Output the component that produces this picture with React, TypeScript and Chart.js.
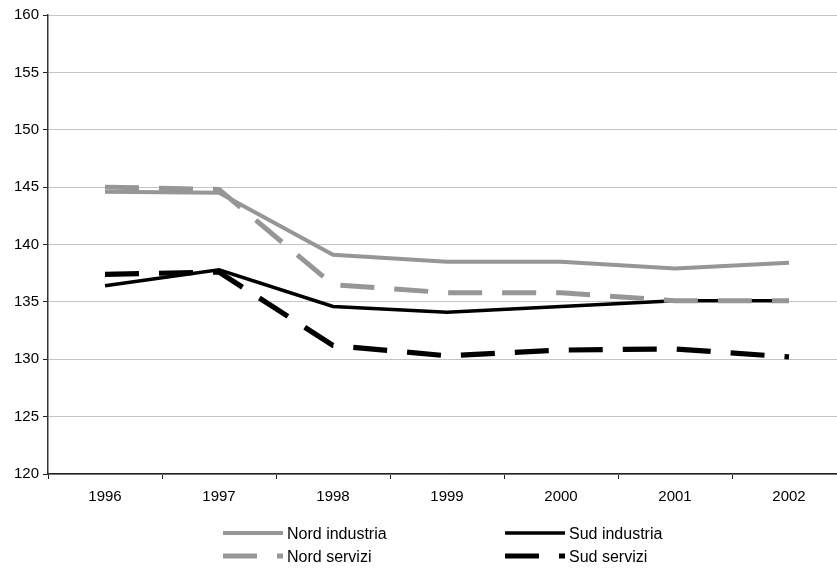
import React, { useEffect, useRef } from "react";
import { Chart, registerables } from "chart.js";

Chart.register(...registerables);

const years = ["1996", "1997", "1998", "1999", "2000", "2001", "2002"];
const nordIndustria = [144.6, 144.5, 139.1, 138.5, 138.5, 137.9, 138.4];
const sudIndustria = [136.4, 137.8, 134.6, 134.1, 134.6, 135.1, 135.1];
const nordServizi = [145.0, 144.8, 136.5, 135.8, 135.8, 135.1, 135.1];
const sudServizi = [137.4, 137.6, 131.2, 130.3, 130.8, 130.9, 130.2];

const FONT = "'Liberation Sans', Arial, sans-serif";
const GREY = "#969696";
const BLACK = "#000000";
const DASH = [34, 20];

// Two-column legend under the plot, drawn with each dataset's own stroke style
const legendGrid = {
  id: "legendGrid",
  afterDraw(chart: any) {
    const ctx = chart.ctx;
    const cols = [223, 505];
    const rows = [533, 556];
    const items = [
      { label: "Nord industria", ds: 0, col: 0, row: 0 },
      { label: "Sud industria", ds: 1, col: 1, row: 0 },
      { label: "Nord servizi", ds: 2, col: 0, row: 1 },
      { label: "Sud servizi", ds: 3, col: 1, row: 1 },
    ];
    ctx.save();
    items.forEach((it) => {
      const d = chart.data.datasets[it.ds];
      const x = cols[it.col];
      const y = rows[it.row];
      ctx.beginPath();
      ctx.strokeStyle = d.borderColor;
      ctx.lineWidth = d.borderWidth;
      ctx.setLineDash(d.borderDash || []);
      ctx.lineCap = "butt";
      ctx.moveTo(x, y);
      ctx.lineTo(x + 60, y);
      ctx.stroke();
      ctx.setLineDash([]);
      ctx.fillStyle = "#000";
      ctx.font = `16px ${FONT}`;
      ctx.textBaseline = "middle";
      ctx.textAlign = "left";
      ctx.fillText(it.label, x + 64, y + 2);
    });
    ctx.restore();
  },
};

export default function App() {
  const ref = useRef<HTMLCanvasElement>(null);

  useEffect(() => {
    if (!ref.current) return;
    const chart = new Chart(ref.current, {
      type: "line",
      data: {
        labels: years,
        datasets: [
          {
            label: "Nord industria",
            data: nordIndustria,
            borderColor: GREY,
            borderWidth: 4,
            order: 2,
          },
          {
            label: "Sud industria",
            data: sudIndustria,
            borderColor: BLACK,
            borderWidth: 3.6,
            order: 3,
          },
          {
            label: "Nord servizi",
            data: nordServizi,
            borderColor: GREY,
            borderWidth: 5,
            borderDash: DASH,
            order: 0,
          },
          {
            label: "Sud servizi",
            data: sudServizi,
            borderColor: BLACK,
            borderWidth: 5.2,
            borderDash: DASH,
            order: 1,
          },
        ],
      },
      options: {
        responsive: false,
        animation: false,
        devicePixelRatio: 1,
        layout: { padding: { left: 0, right: 4, top: 15, bottom: 0 } },
        elements: {
          point: { radius: 0, hoverRadius: 0 },
          line: { tension: 0, fill: false, borderCapStyle: "butt", borderJoinStyle: "miter" },
        },
        plugins: {
          legend: { display: false },
          tooltip: { enabled: false },
        },
        scales: {
          x: {
            offset: true,
            afterFit: (s: any) => {
              s.height = 105;
            },
            grid: {
              offset: true,
              drawOnChartArea: false,
              drawTicks: true,
              tickLength: 5,
              tickColor: "#222",
            },
            border: { color: "#222", width: 1.5 },
            ticks: {
              color: "#000",
              padding: 9,
              maxRotation: 0,
              font: { family: FONT, size: 15 },
            },
          },
          y: {
            min: 120,
            max: 160,
            afterFit: (s: any) => {
              s.width = 48;
            },
            grid: {
              color: "#c4c4c4",
              lineWidth: 1,
              tickLength: 5,
              tickColor: "#222",
            },
            border: { color: "#333", width: 1.5 },
            ticks: {
              stepSize: 5,
              color: "#000",
              padding: 4,
              font: { family: FONT, size: 15 },
            },
          },
        },
      },
      plugins: [legendGrid],
    });
    return () => chart.destroy();
  }, []);

  return (
    <div
      style={{
        position: "fixed",
        left: 0,
        top: 0,
        width: 837,
        height: 579,
        overflow: "hidden",
        background: "#fff",
      }}
    >
      <canvas ref={ref} width={850} height={579} style={{ display: "block" }} />
    </div>
  );
}
